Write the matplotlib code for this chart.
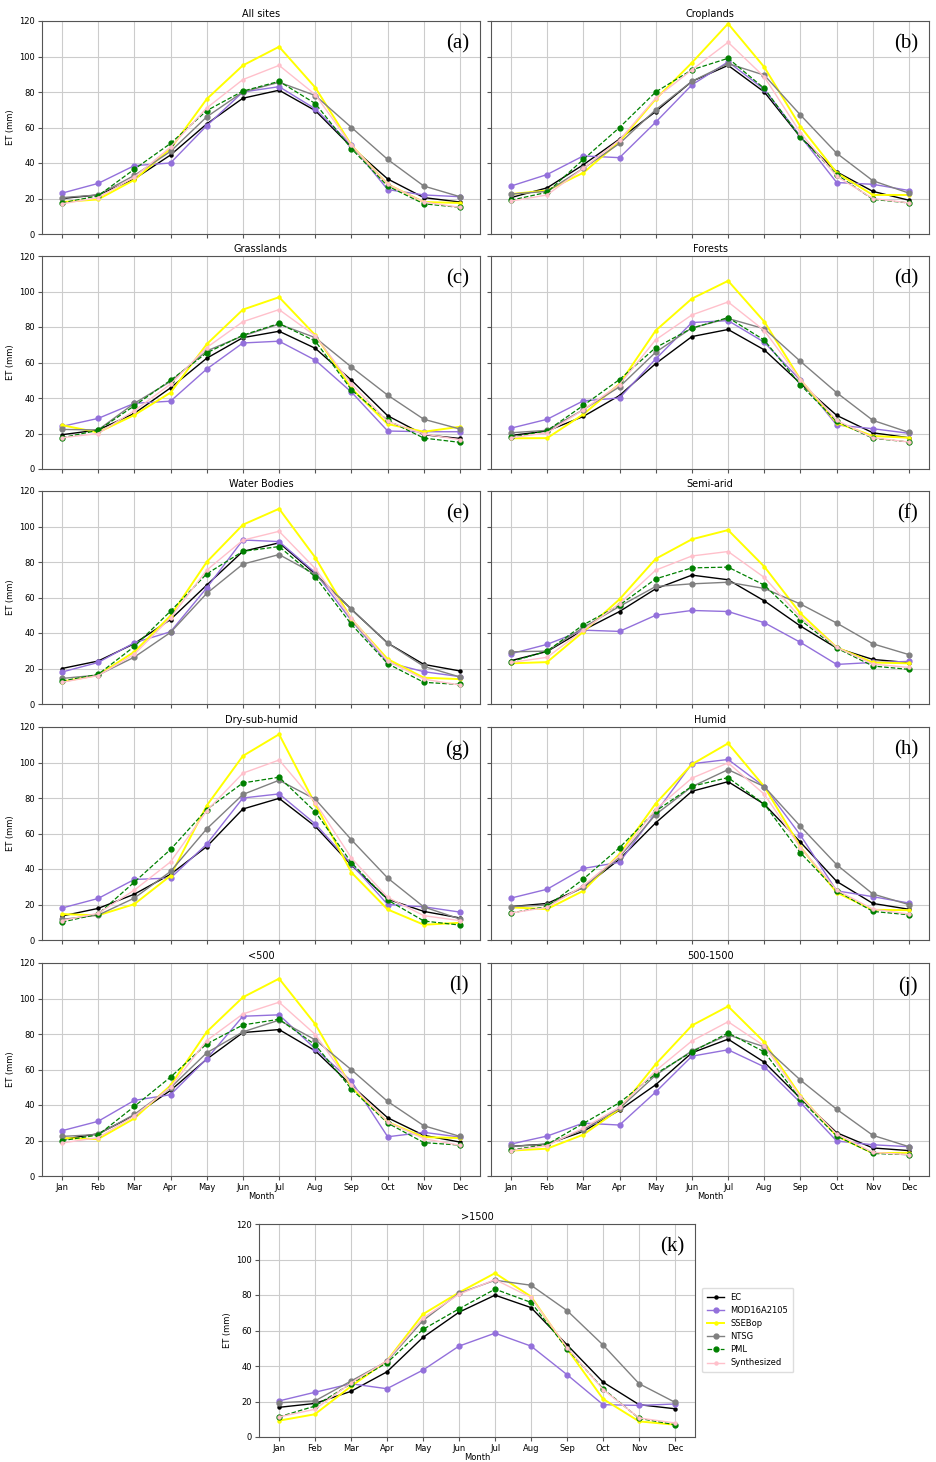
import numpy as np
import matplotlib
matplotlib.use('Agg')
import matplotlib.pyplot as plt

months = ['Jan', 'Feb', 'Mar', 'Apr', 'May', 'Jun', 'Jul', 'Aug', 'Sep', 'Oct', 'Nov', 'Dec']
titles = ['All sites', 'Croplands', 'Grasslands', 'Forests', 'Water Bodies', 'Semi-arid',
          'Dry-sub-humid', 'Humid', '<500', '500-1500', '>1500']
tags = ['(a)', '(b)', '(c)', '(d)', '(e)', '(f)', '(g)', '(h)', '(l)', '(j)', '(k)']
series_names = ['EC', 'MOD16A2105', 'SSEBop', 'NTSG', 'PML', 'Synthesized']

# monthly ET (mm), one row per panel a..k
ec = [
    [20, 22, 31, 44.5, 62, 76.5, 81, 69.5, 49, 31, 20.5, 18],
    [20.5, 26, 39, 53.5, 69, 86, 95, 80, 54.5, 35, 24, 19],
    [19.3, 22, 31.3, 45.7, 62.4, 74, 77.6, 68, 50, 30, 19.3, 17.2],
    [18.9, 21.4, 29.6, 41.4, 59.4, 74.6, 78.6, 67.1, 48.2, 30.2, 20.4, 17.6],
    [20, 24.2, 34, 47.6, 67, 86, 90.8, 73.3, 53.3, 34.3, 22.3, 18.6],
    [24.4, 29.6, 41.6, 52.1, 64.9, 72.6, 70, 58.1, 43.9, 31.5, 25.1, 23.3],
    [13.5, 17.8, 25.8, 37, 52.6, 73.8, 79.8, 64, 42.1, 23, 16.1, 12.4],
    [18.8, 20.6, 29.6, 45.5, 66, 83.8, 89.2, 76.5, 55.1, 33, 20.6, 17.3],
    [20.6, 23.8, 34.1, 48.2, 65.8, 80.8, 82.5, 70.5, 51, 32.8, 22.9, 19.1],
    [16.7, 18, 25.1, 37.1, 51.4, 69.4, 77.1, 64.1, 43.7, 24.4, 15.8, 14.3],
    [16.7, 18.9, 25.7, 36.7, 56.1, 70.3, 79.9, 72.9, 51.9, 30.9, 18.2, 15.9],
]
mod = [
    [23, 28.5, 38.5, 40, 61, 80, 83, 70.5, 50, 25, 22, 21],
    [27, 33.5, 44, 43, 63, 84, 97, 81.5, 55, 29, 28, 24.5],
    [24, 28.5, 37, 38.2, 56.3, 71, 72, 61.3, 43.3, 21.4, 21, 21],
    [23, 28, 38.4, 40, 62, 82.5, 83.6, 71.4, 49.9, 24.8, 22.7, 20.1],
    [18, 23.4, 34.5, 40.7, 65.4, 92.4, 91.5, 74, 46.9, 23.4, 18.2, 15.4],
    [28.3, 33.6, 41.6, 40.9, 50, 52.7, 52.1, 45.8, 34.7, 22.3, 23.4, 24],
    [18, 23.4, 34.1, 34.9, 54, 80, 82.3, 65.4, 42.7, 20, 18.7, 15.7],
    [23.6, 28.6, 40.3, 43.8, 71.8, 99.3, 101.7, 86.4, 59, 27.7, 24.4, 20.8],
    [25.5, 30.8, 42.6, 45.8, 66, 90, 90.8, 71.6, 53.4, 22.1, 24.6, 21.9],
    [18, 22.5, 29.8, 28.7, 47.3, 67.5, 71.1, 61.5, 41.3, 19.7, 17.6, 16.5],
    [20.3, 25.2, 30, 27.2, 37.7, 51.2, 58.5, 51.2, 35.1, 18.2, 17.8, 18.6],
]
ssebop = [
    [18, 19.5, 30.5, 48, 76, 95, 105.5, 82.5, 50, 28, 18, 17.5],
    [22.5, 24.5, 34.5, 52, 76, 96.5, 118.5, 94, 60.5, 34.5, 22, 22],
    [24.7, 20.6, 30.4, 43, 70.3, 89.8, 96.8, 75.4, 45.4, 25.3, 21, 23.8],
    [17.3, 17.4, 30.8, 48, 78, 96, 106, 83, 50.3, 26, 18.6, 17.6],
    [12.6, 16.3, 29.4, 49.7, 80, 101, 110, 82.5, 47.8, 25.3, 14.8, 14],
    [22.9, 23.6, 40.7, 59, 81.8, 92.8, 98, 77.4, 51, 31.9, 23.4, 22.9],
    [14.6, 13.9, 20.2, 36.2, 75.7, 103.7, 115.9, 76.5, 38, 17.2, 8.6, 9.7],
    [18.4, 17.4, 27.7, 48.4, 76.9, 99, 110.8, 86.4, 52.4, 26.7, 17, 16.8],
    [21.4, 20.8, 32.4, 51, 81.2, 100.7, 111.2, 85.5, 50, 30.4, 21.9, 21.4],
    [14.3, 15.4, 23.3, 37.7, 63, 84.8, 95.6, 75.4, 45.2, 22.5, 12.9, 13.1],
    [9.2, 12.8, 28.5, 42.9, 69.2, 81.4, 92.3, 79.1, 49.7, 21.4, 8.8, 6.9],
]
ntsg = [
    [20.5, 22, 33, 46.5, 66, 80, 85.5, 78, 60, 42, 27, 21],
    [22.5, 24, 37, 51, 70, 86, 96, 89.5, 67, 45.5, 30, 23],
    [22.3, 22, 37, 49.3, 66.5, 75, 81.6, 74, 57.4, 41.6, 28, 22.5],
    [20.4, 21.8, 33.4, 46.3, 65.8, 79.5, 84.8, 79, 60.6, 43, 27.4, 20.6],
    [14.4, 16.3, 26.4, 40.3, 62.3, 78.8, 84.2, 73, 53.3, 34.3, 21.2, 15.2],
    [29.4, 29.8, 43.1, 55, 66.2, 67.7, 68.6, 65.1, 56.3, 45.6, 33.9, 27.8],
    [11.6, 14, 23.6, 38.6, 62.6, 82, 90, 79.3, 56.4, 34.9, 18.6, 11.8],
    [18.8, 19.7, 29.6, 46.8, 70.7, 86.4, 96, 86.4, 64, 42.4, 25.9, 19.9],
    [22.3, 23.4, 34.7, 49.7, 69.4, 81.2, 87.8, 76.7, 59.8, 42, 28.3, 22.3],
    [16.7, 17.8, 26.1, 38.1, 56.8, 70.5, 79.5, 72.8, 54, 37.6, 22.9, 16.5],
    [19.3, 20.3, 31.5, 42.6, 65.6, 81, 88.3, 85.5, 71.2, 51.8, 30, 19.5],
]
pml = [
    [17.5, 21.5, 36.5, 51, 69.5, 80.5, 86, 73.5, 48, 27, 17, 15],
    [19, 23.5, 42, 60, 80, 92.5, 99, 82, 54.5, 33.5, 19.5, 17.5],
    [17.6, 21.8, 35.6, 50, 65.4, 75.4, 82, 72, 44.6, 27.4, 17.4, 15],
    [17.8, 21.6, 35.8, 50.4, 68.4, 79.3, 85.3, 72.6, 47.4, 26.8, 17.3, 15.2],
    [12.9, 16.7, 32.4, 52.3, 73.3, 86, 88.7, 71.6, 44.8, 22.7, 12.2, 11],
    [23.8, 29.8, 44.6, 55.7, 70.5, 76.7, 77.1, 67, 47.3, 31.5, 21.4, 19.5],
    [10.1, 14.6, 32.6, 51, 73.5, 88.5, 91.7, 72.2, 43.5, 22.5, 10.7, 8.4],
    [15.2, 18.9, 34.3, 52, 72.6, 86.6, 91.5, 76.5, 49.1, 27.7, 16.1, 14.2],
    [19.9, 23.1, 39.2, 55.7, 74.4, 85.1, 88.3, 73.9, 48.9, 29.8, 18.8, 17.4],
    [14.6, 17.8, 29.6, 41.3, 57.6, 69.9, 80.6, 69.9, 43.1, 22.5, 12.7, 12],
    [11.3, 17.4, 30, 41.8, 60.6, 72.2, 83.3, 75.8, 49.7, 27.2, 10.5, 6.9],
]
synth = [
    [17, 20.5, 32, 49, 71, 87, 95, 78.5, 50, 28, 18, 15],
    [18.5, 22, 37, 53, 76.5, 92.5, 108, 88.5, 57, 32.5, 20, 17.5],
    [17.6, 20, 32.8, 47.8, 68.4, 83, 89.8, 75, 47.8, 26.8, 19.7, 16.5],
    [17.6, 20.4, 33.4, 47.6, 72.8, 86.8, 94.1, 78, 50.3, 27.4, 17.6, 15.2],
    [12.2, 16, 28, 48.6, 75.4, 92.3, 97.3, 76.3, 48.2, 24.2, 14, 10.7],
    [23.4, 26.3, 41.6, 56.6, 75.4, 83.4, 85.9, 71.3, 48.8, 31.9, 22.5, 20.6],
    [10.9, 15, 28.1, 44, 72.8, 94, 101.4, 77.4, 46.1, 24, 13.7, 10.9],
    [15.2, 18.4, 30.6, 47.4, 73.7, 91.2, 99.8, 82.1, 52.1, 28.1, 17.4, 14.6],
    [18.6, 21.6, 33.8, 50, 76.3, 91.3, 97.9, 79.7, 51, 30.4, 21, 17.3],
    [14.3, 17.1, 27, 38.7, 59.3, 76.1, 86.9, 73.3, 44.6, 23.6, 13.3, 12],
    [11.3, 15.6, 30.4, 42.9, 67, 80.4, 88.7, 78.6, 50.4, 26.7, 10.7, 7.9],
]

styles = [
    dict(color='black', marker='o', ms=2.2, lw=1.0, ls='-'),
    dict(color='mediumpurple', marker='o', ms=3.5, lw=1.0, ls='-'),
    dict(color='yellow', marker='o', ms=2.2, lw=1.4, ls='-'),
    dict(color='gray', marker='o', ms=3.5, lw=1.0, ls='-'),
    dict(color='green', marker='o', ms=3.5, lw=0.9, ls='--'),
    dict(color='pink', marker='o', ms=2.2, lw=1.0, ls='-'),
]

W, H = 936, 1462
fig = plt.figure(figsize=(W / 100, H / 100), dpi=100)

row_tops = [21, 256, 491, 727, 963]
ax_h = 213
lefts = [42, 491]
ax_w = 438

x = np.arange(len(months))
axes = []
for i in range(11):
    if i < 10:
        r, c = divmod(i, 2)
        l, t, w = lefts[c], row_tops[r], ax_w
    else:
        r, c = 5, 0
        l, t, w = 259, 1224, 436
    ax = fig.add_axes([l / W, 1 - (t + ax_h) / H, w / W, ax_h / H])
    axes.append(ax)
    data = [ec[i], mod[i], ssebop[i], ntsg[i], pml[i], synth[i]]
    for name, vals, st in zip(series_names, data, styles):
        ax.plot(x, vals, label=name, **st)
    ax.set_ylim(0, 120)
    ax.set_yticks(np.arange(0, 121, 20))
    ax.set_xticks(x)
    ax.grid(True, color='#cccccc', linewidth=0.8)
    ax.set_axisbelow(True)
    ax.set_title(titles[i], fontsize=7, pad=3)
    ax.tick_params(labelsize=6, length=3, pad=2, color='#555555')
    for sp in ax.spines.values():
        sp.set_color('#555555')
    ax.text(0.975, 0.94, tags[i], transform=ax.transAxes, ha='right', va='top',
            fontsize=15, family='Liberation Serif')
    if c == 0:
        ax.set_ylabel('ET (mm)', fontsize=6, labelpad=3)
    else:
        ax.set_yticklabels([])
    if r >= 4:
        ax.set_xticklabels(months)
        ax.set_xlabel('Month', fontsize=6, labelpad=0)
    else:
        ax.set_xticklabels([])

handles, labels = axes[-1].get_legend_handles_labels()
fig.legend(handles, labels, loc='center left', bbox_to_anchor=(698 / W, 1 - 1330 / H),
           fontsize=6, frameon=True, framealpha=1, edgecolor='#dddddd',
           handlelength=2, borderpad=0.6)

fig.savefig('out.png', dpi=100)
